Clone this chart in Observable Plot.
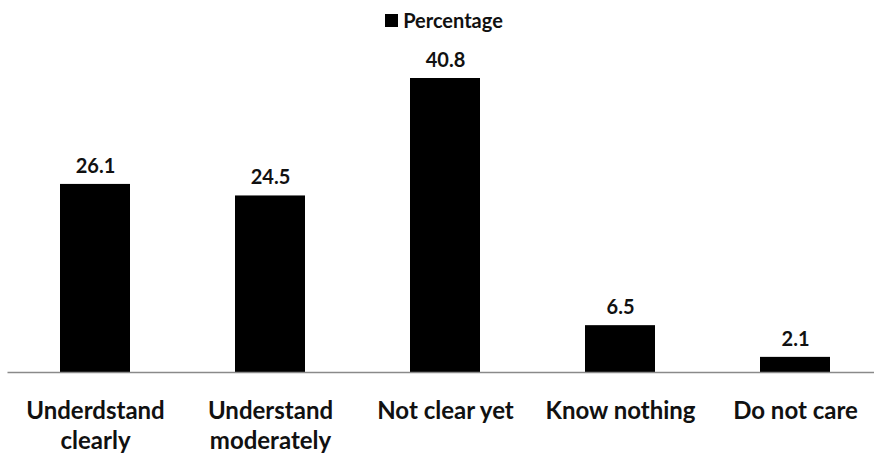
<!DOCTYPE html>
<html>
<head>
<meta charset="utf-8">
<script src="https://cdn.jsdelivr.net/npm/d3@7"></script>
<script src="https://cdn.jsdelivr.net/npm/@observablehq/plot@0.6"></script>
<style>
  html, body { margin: 0; padding: 0; background: #fff; }
  body { width: 874px; height: 457px; overflow: hidden; font-family: Lato, "Open Sans", sans-serif; }
  #legend { height: 36px; display: flex; justify-content: center; align-items: center; font-weight: bold; font-size: 20px; color: #111; padding-left: 14px; padding-top: 4px; box-sizing: border-box; }
  #legend .sw { width: 13px; height: 13px; background: #000; margin-right: 5px; }
  #chart svg { display: block; }
</style>
</head>
<body>
<div id="legend"><span class="sw"></span><span>Percentage</span></div>
<div id="chart"></div>
<script>
const categories = ["Underdstand clearly", "Understand moderately", "Not clear yet", "Know nothing", "Do not care"];
const tickLabels = ["Underdstand\nclearly", "Understand\nmoderately", "Not clear yet", "Know nothing", "Do not care"];
const percentages = [26.1, 24.5, 40.8, 6.5, 2.1];
const seriesName = "Percentage";

const data = categories.map((c, i) => ({category: c, value: percentages[i]}));

const chart = Plot.plot({
  width: 874,
  height: 421,
  marginLeft: 7.5,
  marginRight: -8.5,
  marginTop: 0,
  marginBottom: 85,
  style: {fontFamily: "Lato, 'Open Sans', sans-serif", background: "#fff", overflow: "hidden"},
  x: {domain: categories, paddingInner: 0.6, paddingOuter: 0.3},
  y: {domain: [0, 40.8], range: [336, 42], axis: null},
  marks: [
    Plot.barY(data, {x: "category", y: "value", fill: "#000"}),
    Plot.ruleY([0], {stroke: "#8a8a8a", strokeWidth: 1.5}),
    Plot.text(data, {x: "category", y: "value", text: d => d.value.toFixed(1), dy: -18, fontSize: 20, fontWeight: "bold", fill: "#111"}),
    Plot.axisX({
      tickSize: 0,
      tickPadding: 26,
      tickFormat: (d) => tickLabels[categories.indexOf(d)],
      fontSize: 24,
      fontWeight: "bold",
      lineHeight: 1.22,
      fill: "#111",
      label: null
    })
  ]
});
document.getElementById("chart").appendChild(chart);
</script>
</body>
</html>
